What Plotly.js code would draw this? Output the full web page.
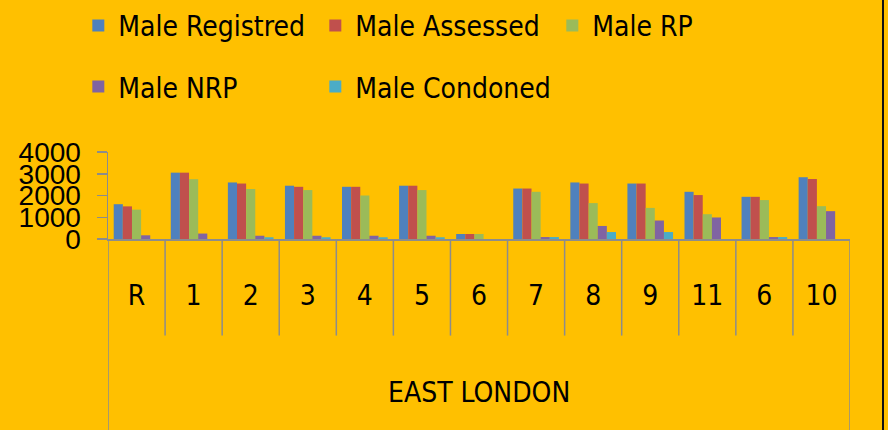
<!DOCTYPE html>
<html>
<head>
<meta charset="utf-8">
<script src="https://cdn.plot.ly/plotly-3.0.1.min.js"></script>
<style>
  html, body { margin:0; padding:0; background:#FFC000; overflow:hidden; }
  #chart { width:888px; height:430px; }
  #edge { position:absolute; left:882px; top:0; width:2px; height:430px; background:#111; }
</style>
</head>
<body>
<div id="chart"></div>
<div id="edge"></div>
<script>
// ---- data ----
const groupLabel = "EAST LONDON";
const categories = ["R","1","2","3","4","5","6","7","8","9","11","6","10"];
const maleRegistred = [1600, 3050, 2600, 2450, 2400, 2450, 230, 2320, 2600, 2550, 2170, 1940, 2840];
const maleAssessed  = [1500, 3050, 2550, 2400, 2400, 2450, 230, 2320, 2550, 2550, 2020, 1940, 2760];
const maleRP        = [1350, 2750, 2300, 2250, 2000, 2250, 230, 2170, 1650, 1430, 1140, 1790, 1510];
const maleNRP       = [170, 250, 150, 150, 150, 150, 0, 90, 600, 850, 990, 90, 1280];
const maleCondoned  = [0, 0, 80, 80, 80, 80, 0, 90, 320, 320, 0, 90, 0];
const seriesNames = ["Male Registred","Male Assessed","Male RP","Male NRP","Male Condoned"];
const yTicks = [0, 1000, 2000, 3000, 4000];

// ---- styling ----
const colors = ["#4F81BD","#C0504D","#9BBB59","#8064A2","#4BACC6"];
const narrow = "Liberation Sans Narrow, DejaVu Sans Condensed, Arial Narrow, sans-serif";
const gridGray = "#8C8C8C";
const idx = categories.map((_, i) => i);
const allSeries = [maleRegistred, maleAssessed, maleRP, maleNRP, maleCondoned];

const traces = allSeries.map((vals, s) => ({
  type: "bar",
  name: seriesNames[s],
  x: idx,
  y: vals,
  marker: { color: colors[s] },
  legend: s < 3 ? "legend" : "legend2",
  hoverinfo: "x+y+name"
}));

// table lines below the x axis
const shapes = [];
for (let k = 0; k <= categories.length; k++) {
  const outer = (k === 0 || k === categories.length);
  shapes.push({
    type: "line", xref: "x", yref: "paper",
    x0: k - 0.5, x1: k - 0.5, y0: 0, y1: outer ? -2.3 : -1.11,
    line: { color: gridGray, width: 1.5 }
  });
}

const legendCommon = {
  orientation: "h", xanchor: "left", yanchor: "middle",
  x: -0.04, entrywidth: 192, entrywidthmode: "pixels",
  bgcolor: "rgba(0,0,0,0)", itemclick: false, itemdoubleclick: false,
  font: { family: narrow, size: 28, color: "#000" }, traceorder: "normal"
};

const layout = {
  width: 888, height: 430,
  paper_bgcolor: "#FFC000", plot_bgcolor: "#FFC000",
  margin: { l: 108, r: 38, t: 152, b: 191, pad: 0, autoexpand: false },
  barmode: "group", bargap: 0.2, bargroupgap: 0,
  showlegend: true,
  legend: Object.assign({}, legendCommon, { y: 2.45 }),
  legend2: Object.assign({}, legendCommon, { y: 1.748 }),
  xaxis: {
    range: [-0.5, categories.length - 0.5],
    tickmode: "array", tickvals: idx, ticktext: categories,
    ticks: "", showgrid: false, zeroline: false,
    showline: true, linecolor: gridGray, linewidth: 1.5,
    tickfont: { family: narrow, size: 28, color: "#000" },
    ticklabelstandoff: 31, fixedrange: true
  },
  yaxis: {
    range: [0, 4000], tickmode: "array", tickvals: yTicks,
    ticks: "outside", ticklen: 10, tickcolor: gridGray, tickwidth: 1.5,
    showline: true, linecolor: gridGray, linewidth: 1.5,
    showgrid: false, zeroline: false,
    tickfont: { family: "Liberation Sans, Arial, sans-serif", size: 28, color: "#000" },
    ticklabelstandoff: 10, fixedrange: true
  },
  shapes: shapes,
  annotations: [{
    text: groupLabel, xref: "x", yref: "paper",
    x: (categories.length - 1) / 2, y: -1.77,
    xanchor: "center", yanchor: "middle", showarrow: false,
    font: { family: narrow, size: 28, color: "#000" }
  }]
};

Plotly.newPlot("chart", traces, layout, { displayModeBar: false, staticPlot: true });
</script>
</body>
</html>
